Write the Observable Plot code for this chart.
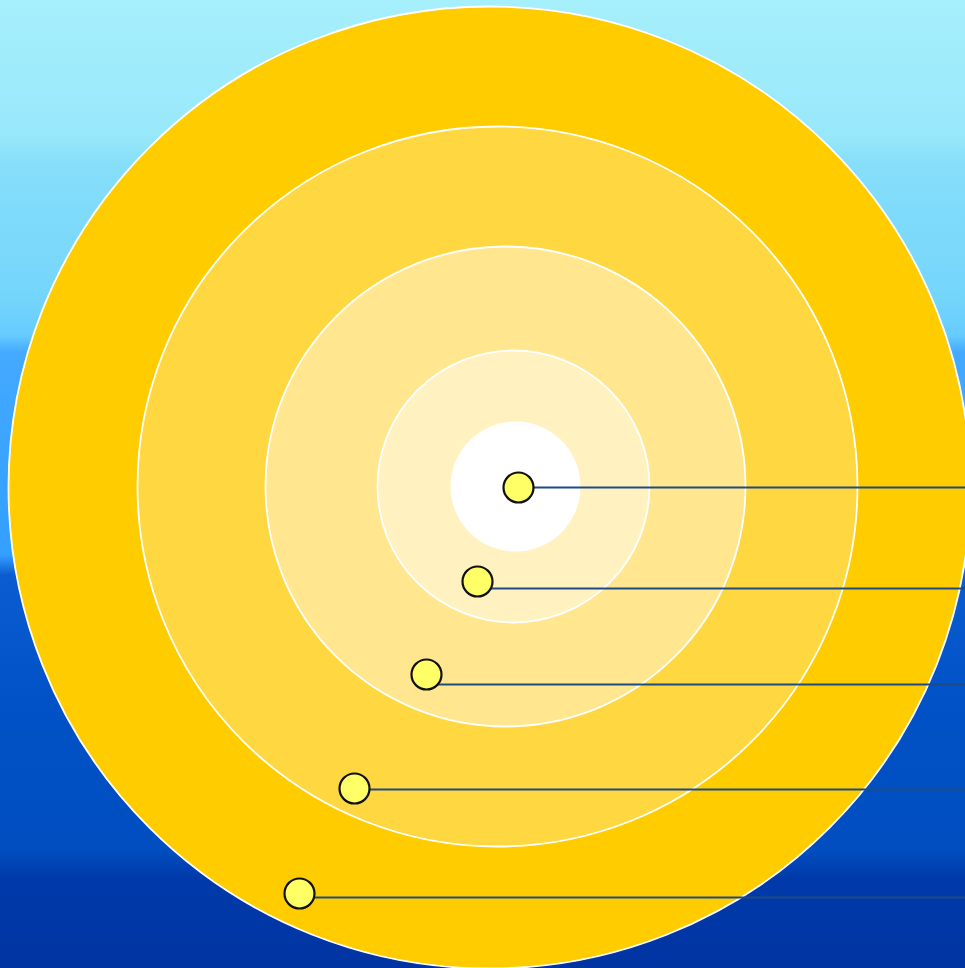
<!DOCTYPE html>
<html>
<head>
<meta charset="utf-8">
<script src="https://cdn.jsdelivr.net/npm/d3@7"></script>
<script src="https://cdn.jsdelivr.net/npm/@observablehq/plot@0.6"></script>
<style>
  html, body { margin: 0; padding: 0; }
  body { width: 965px; height: 968px; overflow: hidden; }
  #chart {
    width: 965px; height: 968px;
    background: linear-gradient(to bottom,
      #A6EFFC 0px, #98E8FB 135px, #86DEFA 165px, #74D5FB 300px, #66CCFF 335px,
      #44AAFF 352px, #3AA4FF 450px, #33A0FF 555px, #0A5CD0 575px,
      #0052C6 700px, #004EC0 850px, #003AAA 878px, #0034A2 968px);
  }
  #chart svg { display: block; background: transparent; }
</style>
</head>
<body>
<div id="chart"></div>
<script>
// Concentric rings (outer to inner)
const ringCx   = [489, 497, 505, 513, 515];
const ringCy   = [487, 486, 486, 486, 486];
const ringR    = [481, 360, 240, 136, 65];
const ringFill = ["#FFCC00", "#FFD740", "#FFE68F", "#FFF2C0", "#FFFFFF"];
const ringStroke = ["white", "white", "white", "white", "none"];

// Marker points
const dotX = [518, 477, 426, 354, 299];
const dotY = [487, 581, 674, 788, 893];

// Leader lines to the right edge
const lineY  = [487, 588, 684, 789, 897];
const lineX1 = [518, 484, 432, 360, 305];
const lineX2 = [965, 965, 965, 965, 965];

const rings = ringR.map((r, i) => ({x: ringCx[i], y: ringCy[i], r, fill: ringFill[i], stroke: ringStroke[i]}));
const dots = dotX.map((x, i) => ({x, y: dotY[i]}));
const lines = lineY.map((y, i) => ({x1: lineX1[i], x2: lineX2[i], y}));

const chart = Plot.plot({
  width: 965,
  height: 968,
  margin: 0,
  x: {domain: [0, 965], range: [0, 965], axis: null},
  y: {domain: [0, 968], range: [0, 968], axis: null},
  r: {type: "identity"},
  style: {background: "transparent"},
  marks: [
    Plot.dot(rings, {x: "x", y: "y", r: "r", fill: "fill", stroke: "stroke", strokeWidth: 1.8}),
    Plot.ruleY(lines, {y: "y", x1: "x1", x2: "x2", stroke: "#1F4B85", strokeWidth: 2}),
    Plot.dot(dots, {x: "x", y: "y", r: 15, fill: "#FFFF66", stroke: "#111111", strokeWidth: 2.2})
  ]
});
document.getElementById("chart").appendChild(chart);
</script>
</body>
</html>
